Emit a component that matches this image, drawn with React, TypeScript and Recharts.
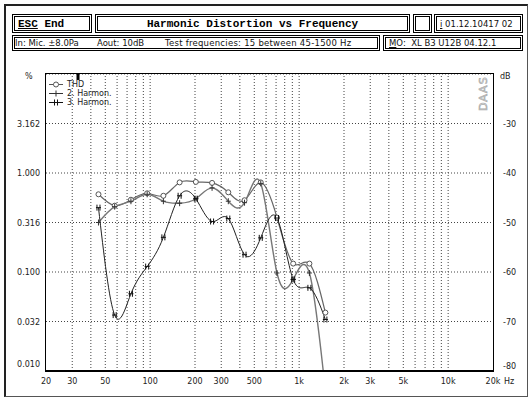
import React from "react";
import {
  LineChart,
  Line,
  XAxis,
  YAxis,
  CartesianGrid,
  ReferenceLine,
  ReferenceDot,
} from "recharts";

// Test frequencies (Hz)
const freqs = [45, 57.8, 74.3, 95.5, 122.7, 157.7, 202.6, 260.4, 334.6, 430, 552.5, 710, 912, 1172, 1500];
// Levels in dB (relative)
const thdDb = [-44.3, -46.6, -45.4, -44.1, -44.6, -41.9, -41.8, -42.0, -43.9, -45.5, -41.9, -49.0, -58.3, -58.3, -68.2];
const h2Db = [-50.0, -46.8, -45.7, -44.3, -45.7, -46.1, -45.2, -43.0, -45.7, -46.0, -42.1, -60.2, -61.5, -60.2, -84.0];
const h3Db = [-47.0, -68.7, -64.4, -58.9, -53.0, -44.6, -45.2, -49.8, -49.2, -56.5, -53.1, -49.1, -61.5, -63.2, -69.6];

const xTicks = [20, 30, 50, 100, 200, 300, 500, 1000, 2000, 3000, 5000, 10000, 20000];
const xGrid = [30, 40, 50, 60, 70, 80, 90, 100, 200, 300, 400, 500, 600, 700, 800, 900, 1000, 2000, 3000, 4000, 5000, 6000, 7000, 8000, 9000, 10000];
const yTicks = [-80, -70, -60, -50, -40, -30];
const cursorFreq = 32.8;

const data = freqs.map((f, i) => ({ f, thd: thdDb[i], h2: h2Db[i], h3: h3Db[i] }));

const tickFont = "'DejaVu Sans', sans-serif";

const fmtX = (v: number) => (v >= 1000 ? `${v / 1000}k` : `${v}`);
const fmtPct = (db: number) => (Math.pow(10, db / 20) * 100).toFixed(3);

const XTick = (props: any) => {
  const { x, payload } = props;
  return (
    <g>
      <text x={x} y={384} textAnchor="middle" fontSize={8} fontFamily={tickFont} fill="#222">
        {fmtX(payload.value)}
      </text>
      {payload.value === 20000 ? (
        <text x={x + 11} y={384} textAnchor="start" fontSize={8} fontFamily={tickFont} fill="#222">
          Hz
        </text>
      ) : null}
    </g>
  );
};

const LeftTick = (props: any) => {
  const { y, payload } = props;
  const dy = payload.value === -80 ? -7 : 0;
  return (
    <text x={40} y={y + 3 + dy} textAnchor="end" fontSize={8} fontFamily={tickFont} fill="#222">
      {fmtPct(payload.value)}
    </text>
  );
};

const RightTick = (props: any) => {
  const { y, payload } = props;
  const dy = payload.value === -80 ? -5 : 0;
  return (
    <text x={503} y={y + 3 + dy} textAnchor="start" fontSize={8} fontFamily={tickFont} fill="#222">
      {payload.value}
    </text>
  );
};

const CircleDot = (props: any) => {
  const { cx, cy } = props;
  if (cx == null || cy == null) return <g />;
  return <circle cx={cx} cy={cy} r={2.5} fill="#fff" stroke="#555" strokeWidth={1} />;
};

const PlusDot = (props: any) => {
  const { cx, cy } = props;
  if (cx == null || cy == null) return <g />;
  return (
    <g stroke="#333" strokeWidth={1}>
      <line x1={cx - 2.5} y1={cy} x2={cx + 2.5} y2={cy} />
      <line x1={cx} y1={cy - 3} x2={cx} y2={cy + 3} />
    </g>
  );
};

const HashDot = (props: any) => {
  const { cx, cy } = props;
  if (cx == null || cy == null) return <g />;
  return (
    <g stroke="#111" strokeWidth={1}>
      <line x1={cx - 1.5} y1={cy - 3} x2={cx - 1.5} y2={cy + 3} />
      <line x1={cx + 1.5} y1={cy - 3} x2={cx + 1.5} y2={cy + 3} />
      <line x1={cx - 2.5} y1={cy} x2={cx + 2.5} y2={cy} />
    </g>
  );
};

const legendItems = [
  { label: "THD", Dot: CircleDot, color: "#555" },
  { label: "2. Harmon.", Dot: PlusDot, color: "#333" },
  { label: "3. Harmon.", Dot: HashDot, color: "#111" },
];

const box = (left: number, top: number, width: number, height: number): React.CSSProperties => ({
  position: "absolute",
  left,
  top,
  width,
  height,
  border: "3px double #000",
  boxSizing: "border-box",
  display: "flex",
  alignItems: "center",
  overflow: "hidden",
  whiteSpace: "pre",
});

const small: React.CSSProperties = { fontFamily: tickFont, fontSize: 8.5, color: "#111" };

export default function App() {
  return (
    <div style={{ position: "absolute", left: 0, top: 0, width: 529, height: 400, background: "#fff", overflow: "hidden" }}>
      {/* outer frame */}
      <div style={{ position: "absolute", left: 4, top: 4, width: 524, height: 393, borderTop: "2px solid #222", borderLeft: "2px solid #222", borderRight: "1px solid #555", borderBottom: "1px solid #555", boxSizing: "border-box" }} />
      {/* header row 1 */}
      <div style={{ ...box(12, 14, 80, 19), fontFamily: "'Liberation Mono', monospace", fontWeight: "bold", fontSize: 11, paddingLeft: 3 }}>
        <span style={{ textDecoration: "underline" }}>ESC</span> End
      </div>
      <div style={{ ...box(95, 14, 315, 19), fontFamily: "'Liberation Mono', monospace", fontWeight: "bold", fontSize: 11, justifyContent: "center" }}>
        Harmonic Distortion vs Frequency
      </div>
      <div style={box(413, 14, 19, 19)} />
      <div style={{ ...box(434, 14, 89, 19), ...small, paddingLeft: 3 }}>
        <span style={{ textDecoration: "underline" }}>i</span> 01.12.10417 02
      </div>
      {/* header row 2 */}
      <div style={box(12, 35, 368, 16)} />
      <div style={{ position: "absolute", left: 15, top: 38, ...small, whiteSpace: "pre" }}>{"In: Mic. \u00b18.0Pa"}</div>
      <div style={{ position: "absolute", left: 97, top: 38, ...small, whiteSpace: "pre" }}>Aout: 10dB</div>
      <div style={{ position: "absolute", left: 165, top: 38, ...small, whiteSpace: "pre", letterSpacing: 0.25 }}>Test frequencies: 15 between 45-1500 Hz</div>
      <div style={{ ...box(383, 35, 140, 16), ...small, paddingLeft: 3 }}>
        <span style={{ textDecoration: "underline" }}>M</span>O:  XL B3 U12B 04.12.1
      </div>
      {/* axis unit labels */}
      <div style={{ position: "absolute", left: 25, top: 72, fontFamily: tickFont, fontSize: 8, color: "#222" }}>%</div>
      <div style={{ position: "absolute", left: 500, top: 72, fontFamily: tickFont, fontSize: 8, color: "#222" }}>dB</div>

      <div style={{ position: "absolute", left: 0, top: 0 }}>
        <LineChart width={529} height={400} data={data} margin={{ top: 74, right: 0, bottom: 0, left: 0 }}>
          <CartesianGrid yAxisId="l" vertical={false} stroke="#444" strokeDasharray="1 2" />
          <XAxis
            dataKey="f"
            type="number"
            scale="log"
            domain={[20, 20000]}
            ticks={xTicks}
            interval={0}
            tick={<XTick />}
            tickLine={false}
            axisLine={false}
            allowDataOverflow
            height={29}
          />
          <YAxis
            yAxisId="l"
            domain={[-80, -20]}
            ticks={yTicks}
            interval={0}
            width={46}
            tick={<LeftTick />}
            tickLine={false}
            axisLine={false}
            allowDataOverflow
          />
          <YAxis
            yAxisId="r"
            orientation="right"
            domain={[-80, -20]}
            ticks={yTicks}
            interval={0}
            width={36}
            tick={<RightTick />}
            tickLine={false}
            axisLine={false}
            allowDataOverflow
          />
          {xGrid.map((g) => (
            <ReferenceLine key={g} x={g} yAxisId="l" stroke="#444" strokeDasharray="1 2" />
          ))}
          <Line yAxisId="l" type="natural" dataKey="thd" stroke="#666" strokeWidth={1.2} dot={<CircleDot />} isAnimationActive={false} />
          <Line yAxisId="l" type="natural" dataKey="h2" stroke="#777" strokeWidth={1.4} dot={<PlusDot />} isAnimationActive={false} />
          <Line yAxisId="l" type="natural" dataKey="h3" stroke="#222" strokeWidth={1} dot={<HashDot />} isAnimationActive={false} />
          <ReferenceDot
            yAxisId="l"
            x={cursorFreq}
            y={-20.6}
            r={0}
            shape={(p: any) => <rect x={p.cx - 1.5} y={p.cy - 3} width={3} height={6} fill="#000" />}
          />
        </LineChart>
      </div>
      {/* legend */}
      <div style={{ position: "absolute", left: 48, top: 80, fontFamily: tickFont, fontSize: 8, color: "#222", lineHeight: "9px" }}>
        {legendItems.map((it) => (
          <div key={it.label} style={{ display: "flex", alignItems: "center", height: 9 }}>
            <svg width={16} height={9} style={{ marginRight: 3 }}>
              <line x1={1} y1={4.5} x2={15} y2={4.5} stroke={it.color} strokeWidth={1} />
              <it.Dot cx={8} cy={4.5} />
            </svg>
            <span>{it.label}</span>
          </div>
        ))}
      </div>
      {/* plot frame */}
      <div style={{ position: "absolute", left: 45, top: 73, width: 449, height: 299, borderTop: "1.5px solid #000", borderLeft: "1.5px solid #000", borderRight: "1.5px solid #000", borderBottom: "2.5px solid #000", boxSizing: "border-box", pointerEvents: "none" }} />
      {/* watermark */}
      <svg style={{ position: "absolute", left: 0, top: 0, pointerEvents: "none" }} width={529} height={400}>
        <text x={0} y={0} transform="translate(487,111) rotate(-90)" fontFamily="'DejaVu Sans', sans-serif" fontSize={11} fill="none" stroke="#aaa" strokeWidth={0.7} letterSpacing={1}>
          DAAS
        </text>
      </svg>
    </div>
  );
}
